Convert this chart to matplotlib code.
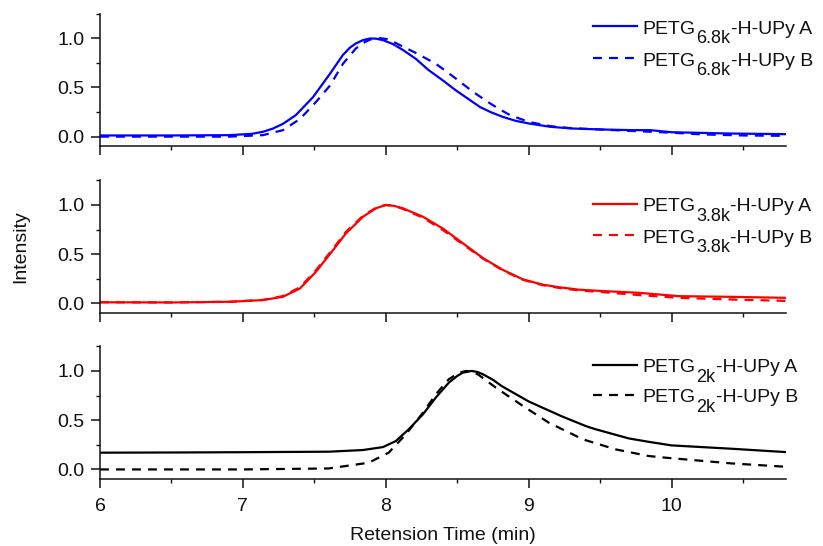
import matplotlib
matplotlib.use("Agg")
import matplotlib.pyplot as plt
from matplotlib.lines import Line2D
from matplotlib.ticker import MultipleLocator
from matplotlib.transforms import offset_copy

plt.rcParams['font.family'] = ['Liberation Sans', 'DejaVu Sans']

# Retention-time traces (normalised intensity)
t_68a = [6.0, 6.5, 6.9, 7.06, 7.14, 7.21, 7.28, 7.37, 7.49, 7.61, 7.70, 7.75, 7.79, 7.84, 7.89,
         7.93, 7.98, 8.05, 8.12, 8.21, 8.30, 8.40, 8.49, 8.58, 8.66, 8.74, 8.82, 8.91, 9.0, 9.15,
         9.30, 9.50, 9.72, 9.85, 10.0, 10.4, 10.8]
i_68a = [0.012, 0.012, 0.015, 0.028, 0.049, 0.082, 0.13, 0.218, 0.40, 0.64, 0.83, 0.905, 0.946,
         0.98, 0.997, 0.995, 0.98, 0.94, 0.88, 0.79, 0.675, 0.57, 0.47, 0.38, 0.30, 0.245, 0.20,
         0.16, 0.134, 0.10, 0.083, 0.073, 0.066, 0.066, 0.045, 0.032, 0.025]
t_68b = [6.0, 6.5, 6.9, 7.14, 7.28, 7.40, 7.51, 7.61, 7.70, 7.79, 7.84, 7.89, 7.93, 7.96, 8.01,
         8.07, 8.14, 8.21, 8.35, 8.49, 8.61, 8.73, 8.80, 8.87, 9.0, 9.15, 9.3, 9.5, 9.66, 10.0,
         10.23, 10.5, 10.8]
i_68b = [0.0, 0.0, 0.0, 0.015, 0.066, 0.18, 0.35, 0.52, 0.74, 0.895, 0.95, 0.986, 0.998, 1.0,
         0.99, 0.95, 0.90, 0.85, 0.74, 0.59, 0.455, 0.337, 0.275, 0.218, 0.15, 0.107, 0.085,
         0.073, 0.062, 0.04, 0.022, 0.012, 0.008]

t_38a = [6.0, 6.5, 6.91, 7.14, 7.28, 7.40, 7.51, 7.63, 7.72, 7.84, 7.93, 8.0, 8.06, 8.12, 8.26,
         8.40, 8.54, 8.68, 8.82, 8.96, 9.10, 9.21, 9.35, 9.49, 9.77, 10.05, 10.42, 10.8]
i_38a = [0.012, 0.010, 0.017, 0.034, 0.068, 0.153, 0.32, 0.54, 0.71, 0.88, 0.966, 1.0, 0.99,
         0.966, 0.88, 0.76, 0.61, 0.46, 0.34, 0.244, 0.19, 0.165, 0.14, 0.128, 0.108, 0.074,
         0.067, 0.057]
t_38b = [6.0, 6.5, 6.91, 7.14, 7.28, 7.40, 7.51, 7.63, 7.72, 7.84, 7.93, 8.0, 8.06, 8.12, 8.26,
         8.40, 8.54, 8.68, 8.82, 8.96, 9.10, 9.21, 9.35, 9.49, 9.77, 10.05, 10.42, 10.8]
i_38b = [0.012, 0.010, 0.017, 0.036, 0.075, 0.165, 0.335, 0.555, 0.725, 0.89, 0.97, 1.0, 0.99,
         0.96, 0.87, 0.745, 0.60, 0.455, 0.335, 0.24, 0.185, 0.158, 0.132, 0.118, 0.085, 0.057,
         0.04, 0.026]

t_2a = [6.0, 6.5, 7.0, 7.6, 7.84, 7.98, 8.07, 8.16, 8.26, 8.35, 8.44, 8.50, 8.54, 8.60, 8.64,
        8.68, 8.75, 8.81, 9.0, 9.23, 9.40, 9.47, 9.70, 9.84, 10.0, 10.42, 10.8]
i_2a = [0.17, 0.172, 0.175, 0.18, 0.197, 0.227, 0.288, 0.407, 0.56, 0.73, 0.88, 0.95, 0.983,
        1.0, 0.99, 0.966, 0.91, 0.847, 0.69, 0.54, 0.44, 0.407, 0.315, 0.28, 0.244, 0.21, 0.176]
t_2b = [6.0, 6.5, 7.0, 7.6, 7.88, 8.02, 8.14, 8.26, 8.35, 8.44, 8.51, 8.56, 8.61, 8.65, 8.77,
        8.96, 9.14, 9.38, 9.61, 9.84, 9.96, 10.42, 10.8]
i_2b = [0.0, 0.0, 0.0, 0.01, 0.068, 0.17, 0.356, 0.576, 0.763, 0.915, 0.98, 1.0, 0.99, 0.96,
        0.83, 0.644, 0.475, 0.305, 0.203, 0.136, 0.119, 0.061, 0.027]

# legend text: main part, subscript, tail
legend_rows = [
    [('PETG', '6.8k', '-H-UPy A'), ('PETG', '6.8k', '-H-UPy B')],
    [('PETG', '3.8k', '-H-UPy A'), ('PETG', '3.8k', '-H-UPy B')],
    [('PETG', '2k', '-H-UPy A'), ('PETG', '2k', '-H-UPy B')],
]

x_ticks = [6, 7, 8, 9, 10]
y_ticks = [0.0, 0.5, 1.0]
y_ticklabels = ['0.0', '0.5', '1.0']

INK = '#111111'
FS = 14
DASH = (0, (4, 3.2))

fig = plt.figure(figsize=(8.23, 5.46), dpi=100)
left, width = 0.1215, 0.8335
bottoms = [0.7317, 0.4262, 0.1222]
height = 0.2435
# vertical position (axes fraction) of the two legend handles in each panel
legend_y = [(0.904, 0.666), (0.825, 0.587), (0.862, 0.636)]

panels = [
    (t_68a, i_68a, t_68b, i_68b, '#0000ff'),
    (t_38a, i_38a, t_38b, i_38b, '#ff0000'),
    (t_2a, i_2a, t_2b, i_2b, '#000000'),
]

axes = []
for k, (ta, ia, tb, ib, col) in enumerate(panels):
    ax = fig.add_axes([left, bottoms[k], width, height])
    ax.plot(ta, ia, color=col, lw=1.6)
    ax.plot(tb, ib, color=col, lw=1.6, linestyle=DASH)
    ax.set_xlim(6, 10.8)
    ax.set_ylim(-0.1, 1.25)
    ax.set_xticks(x_ticks)
    ax.set_yticks(y_ticks)
    ax.set_yticklabels(y_ticklabels)
    ax.xaxis.set_minor_locator(MultipleLocator(0.5))
    ax.yaxis.set_minor_locator(MultipleLocator(0.25))
    for s in ['top', 'right']:
        ax.spines[s].set_visible(False)
    for s in ['left', 'bottom']:
        ax.spines[s].set_linewidth(1.1)
        ax.spines[s].set_color(INK)
    ax.tick_params(which='major', direction='out', length=6.3, width=1.1,
                   labelsize=FS, colors=INK)
    ax.tick_params(axis='y', which='major', pad=5)
    ax.tick_params(axis='x', which='major', pad=7)
    ax.tick_params(which='minor', direction='out', length=3.2, width=1.0, colors=INK)
    if k < 2:
        ax.tick_params(axis='x', labelbottom=False)
    axes.append(ax)

axes[2].set_xlabel('Retension Time (min)', fontsize=FS, color=INK, labelpad=9)
fig.text(0.0255, bottoms[1] + height / 2, 'Intensity', rotation=90, fontsize=FS,
         color=INK, ha='center', va='center')

# legend built from handle lines and text with full-size subscripts
fig.canvas.draw()
renderer = fig.canvas.get_renderer()
hx0, hx1, tx = 0.719, 0.7824, 0.7905
for k, ax in enumerate(axes):
    col = panels[k][4]
    for r, (main, sub, tail) in enumerate(legend_rows[k]):
        yh = legend_y[k][r]
        ls = '-' if r == 0 else DASH
        ax.add_line(Line2D([hx0, hx1], [yh, yh], transform=ax.transAxes, color=col,
                           lw=1.6, linestyle=ls, clip_on=False))
        base = offset_copy(ax.transAxes, fig, x=0, y=-7.6, units='dots')
        t1 = ax.text(tx, yh, main, transform=base, fontsize=FS, color=INK,
                     ha='left', va='baseline')
        anchor_x = ax.transAxes.transform((tx, yh))[0]
        bb1 = t1.get_window_extent(renderer)
        sub_tr = offset_copy(ax.transAxes, fig, x=bb1.x1 - anchor_x + 0.5,
                             y=-7.6 - 9.5, units='dots')
        t2 = ax.text(tx, yh, sub, transform=sub_tr, fontsize=FS - 1, color=INK,
                     ha='left', va='baseline')
        bb2 = t2.get_window_extent(renderer)
        tail_tr = offset_copy(ax.transAxes, fig, x=bb2.x1 - anchor_x + 0.5,
                              y=-7.6, units='dots')
        ax.text(tx, yh, tail, transform=tail_tr, fontsize=FS, color=INK,
                ha='left', va='baseline')

fig.savefig('out.png', dpi=100)
